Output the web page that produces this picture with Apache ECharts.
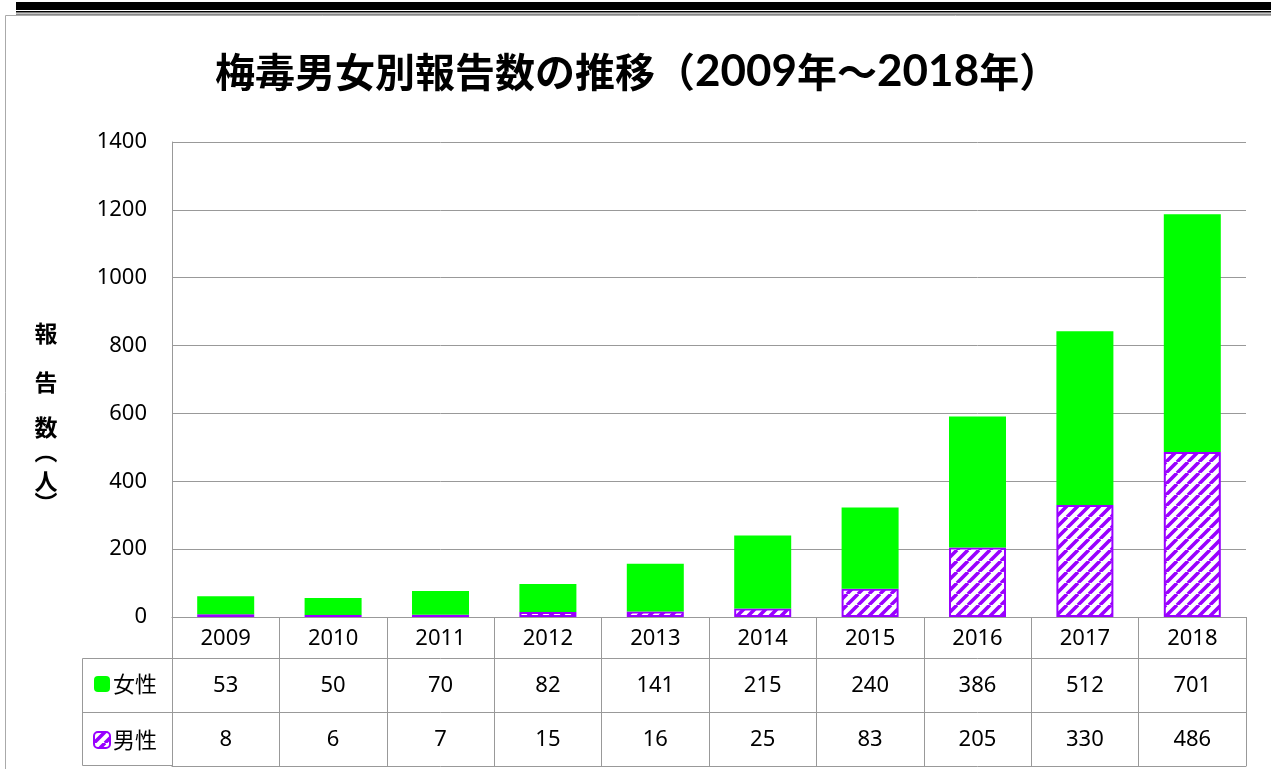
<!DOCTYPE html>
<html>
<head>
<meta charset="utf-8">
<script src="https://cdn.jsdelivr.net/npm/echarts@6/dist/echarts.min.js"></script>
<style>
  html, body { margin: 0; padding: 0; background: #fff; }
  #chart { width: 1271px; height: 769px; }
</style>
</head>
<body>
<div id="chart"></div>
<script>
// data
const years = ['2009', '2010', '2011', '2012', '2013', '2014', '2015', '2016', '2017', '2018']
const female = [53, 50, 70, 82, 141, 215, 240, 386, 512, 701]
const male = [8, 6, 7, 15, 16, 25, 83, 205, 330, 486]
const yMax = 1400
const yStep = 200

const GRAY = '#999999'
const PURPLE = '#9900ff'
const GREEN = '#00ff00'
const NUM_FONT = '"Noto Sans", "Noto Sans CJK JP", sans-serif'
const TITLE_NUM_FONT = 'Lato, "Noto Sans CJK JP", sans-serif'
const JP_FONT = '"Noto Sans CJK JP", sans-serif'

// diagonal hatch for the male bars
function makeHatch() {
  const c = document.createElement('canvas')
  c.width = c.height = 11
  const g = c.getContext('2d')
  g.fillStyle = '#fff'
  g.fillRect(0, 0, 11, 11)
  g.strokeStyle = PURPLE
  g.lineWidth = 3.6
  g.beginPath()
  for (const o of [-11, 0, 11]) {
    g.moveTo(o, 11)
    g.lineTo(o + 11, 0)
  }
  g.stroke()
  return c
}

// one table row = one extra category axis pushed down by offset
function tableAxis(offset, values, tickLen, margin) {
  return {
    type: 'category',
    data: years,
    position: 'bottom',
    offset: offset,
    axisLine: { show: true, lineStyle: { color: GRAY, width: 1 } },
    axisTick: { show: tickLen > 0, interval: 0, length: tickLen, lineStyle: { color: GRAY } },
    axisLabel: {
      show: !!values,
      interval: 0,
      margin: margin,
      fontSize: 22,
      fontFamily: NUM_FONT,
      color: '#000',
      formatter: (v, i) => String(values[i]),
    },
  }
}

// vertical axis name: char, centre y, rotation
const yNameChars = [['報', 333, 0], ['告', 382, 0], ['数', 427, 0], ['（', 452, -Math.PI / 2], ['人', 481, 0], ['）', 503, -Math.PI / 2]]

const chart = echarts.init(document.getElementById('chart'))
chart.setOption({
  animation: false,
  backgroundColor: '#fff',
  title: {
    left: 210,
    top: 45,
    text: '{a|梅毒男女別報告数の推移（}{b|2009}{a|年～}{b|2018}{a|年）}',
    textStyle: {
      rich: {
        a: { fontSize: 40, fontWeight: 'bold', fontFamily: JP_FONT, color: '#000' },
        b: { fontSize: 44, fontWeight: 'bold', fontFamily: TITLE_NUM_FONT, color: '#000' },
      },
    },
  },
  legend: {
    orient: 'vertical',
    left: 88,
    top: 668,
    itemWidth: 16,
    itemHeight: 16,
    itemGap: 34,
    data: ['女性', '男性'],
    textStyle: { fontSize: 22, fontFamily: JP_FONT, color: '#000', padding: [0, 0, 0, -2] },
  },
  grid: { left: 172, right: 25, top: 142, bottom: 152 },
  xAxis: [
    tableAxis(0, years, 41, 11),
    tableAxis(41, female, 54, 17),
    tableAxis(95, male, 54, 17),
    tableAxis(149, null, 0, 0),
  ],
  yAxis: {
    type: 'value',
    min: 0,
    max: yMax,
    interval: yStep,
    axisLine: { show: true, lineStyle: { color: GRAY } },
    axisTick: { show: false },
    splitLine: { lineStyle: { color: GRAY } },
    axisLabel: { fontSize: 22, fontFamily: NUM_FONT, color: '#000', margin: 25, formatter: v => String(v) },
  },
  series: [
    {
      name: '男性',
      type: 'bar',
      stack: 'total',
      barWidth: 57,
      data: male,
      itemStyle: {
        color: { image: makeHatch(), repeat: 'repeat' },
        borderColor: PURPLE,
        borderWidth: 2,
      },
    },
    {
      name: '女性',
      type: 'bar',
      stack: 'total',
      barWidth: 57,
      data: female,
      itemStyle: { color: GREEN },
    },
  ],
  graphic: [
    // band at the top of the page
    { type: 'rect', shape: { x: 16, y: 2, width: 1300, height: 8 }, style: { fill: '#000' } },
    { type: 'rect', shape: { x: 16, y: 11, width: 1300, height: 1.5 }, style: { fill: '#000' } },
    { type: 'rect', shape: { x: 16, y: 13.5, width: 1300, height: 1.5 }, style: { fill: '#888' } },
    // outer frame
    { type: 'rect', shape: { x: 5.5, y: 15.5, width: 1300, height: 800 }, style: { fill: null, stroke: '#aaa', lineWidth: 1 } },
    // left column of the data table
    { type: 'rect', shape: { x: 82.5, y: 658.5, width: 90, height: 107 }, style: { fill: null, stroke: GRAY, lineWidth: 1 } },
    { type: 'line', shape: { x1: 82, y1: 712.5, x2: 172, y2: 712.5 }, style: { stroke: GRAY, lineWidth: 1 } },
  ].concat(yNameChars.map(([ch, y, rot]) => ({
    type: 'text',
    x: 46,
    y: y,
    rotation: rot,
    style: {
      text: ch,
      fontSize: 23,
      fontWeight: 'bold',
      fontFamily: JP_FONT,
      fill: '#000',
      align: 'center',
      verticalAlign: 'middle',
    },
  }))),
})
</script>
</body>
</html>
